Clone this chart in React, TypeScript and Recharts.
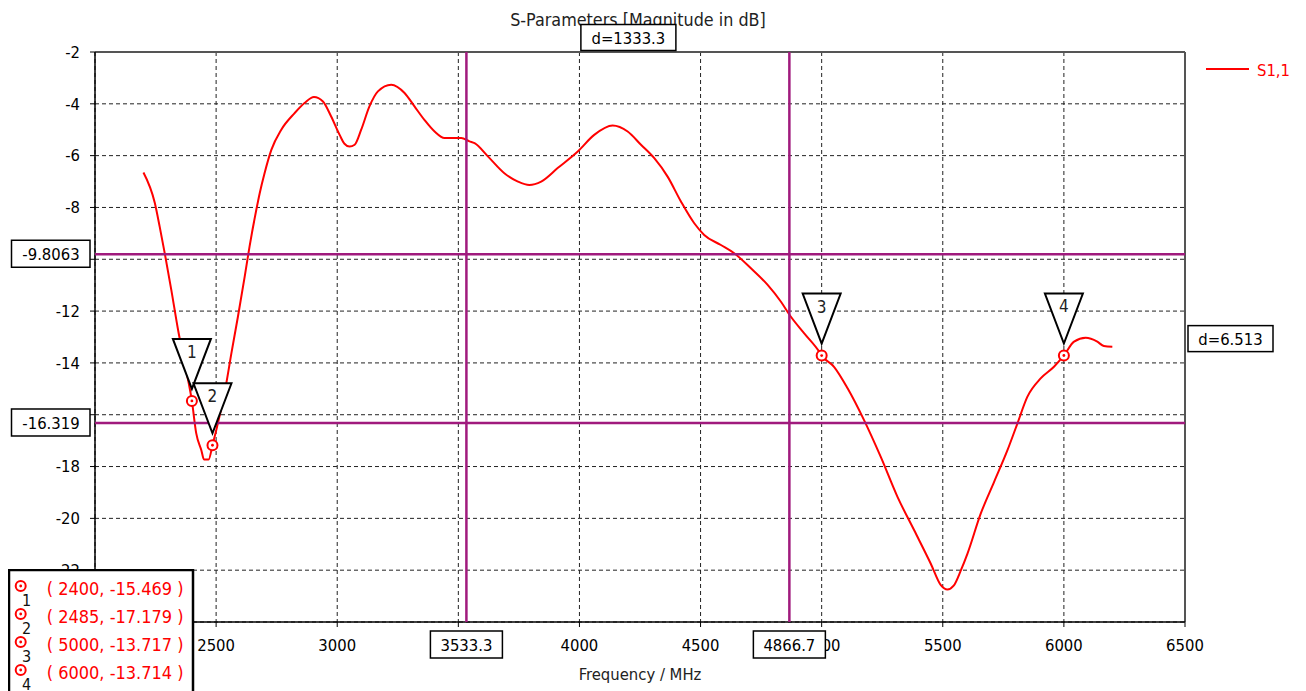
import React from 'react';
import {
  ComposedChart,
  Line,
  Scatter,
  XAxis,
  YAxis,
  CartesianGrid,
  ReferenceLine,
  ReferenceDot,
} from 'recharts';

// ---- data ----
const freqMHz = [
  2200, 2247, 2267, 2288, 2315, 2343, 2372, 2400, 2418, 2439, 2450, 2469, 2485,
  2542, 2563, 2590, 2618, 2638, 2666, 2680, 2700, 2728, 2769, 2824, 2865, 2904,
  2941, 2975, 3010, 3030, 3051, 3072, 3099, 3133, 3168, 3223, 3278, 3319, 3360,
  3402, 3443, 3512, 3546, 3567, 3622, 3690, 3746, 3793, 3842, 3910, 3993, 4061,
  4137, 4199, 4254, 4309, 4364, 4419, 4474, 4515, 4584, 4639, 4708, 4777, 4832,
  4873, 4928, 4990, 5000, 5051, 5107, 5175, 5244, 5313, 5382, 5450, 5492, 5519,
  5545, 5575, 5602, 5657, 5712, 5767, 5808, 5849, 5904, 5959, 6000, 6042, 6090,
  6138, 6165, 6200,
];
const s11dB = [
  -6.65, -7.83, -8.74, -9.77, -11.18, -12.73, -14.1, -15.469, -16.72, -17.37,
  -17.73, -17.73, -17.179, -14.79, -13.63, -12.22, -10.67, -9.51, -8.09, -7.45,
  -6.68, -5.78, -5.0, -4.36, -3.97, -3.74, -3.91, -4.49, -5.2, -5.54, -5.65,
  -5.58, -5.0, -4.1, -3.52, -3.26, -3.58, -4.1, -4.62, -5.07, -5.32, -5.32,
  -5.45, -5.52, -6.03, -6.68, -7.0, -7.13, -7.0, -6.48, -5.84, -5.2, -4.84,
  -5.07, -5.58, -6.1, -6.81, -7.77, -8.61, -9.06, -9.45, -9.77, -10.35, -10.99,
  -11.64, -12.22, -12.86, -13.57, -13.717, -14.15, -14.98, -16.21, -17.63,
  -19.17, -20.46, -21.74, -22.58, -22.75, -22.6, -22.0, -21.36, -19.81, -18.59,
  -17.37, -16.34, -15.31, -14.6, -14.15, -13.714, -13.18, -13.03, -13.18,
  -13.35, -13.38,
];
const xTicks = [2000, 2500, 3000, 3500, 4000, 4500, 5000, 5500, 6000, 6500];
const yTicks = [-24, -22, -20, -18, -16, -14, -12, -10, -8, -6, -4, -2];
const markerIds = [1, 2, 3, 4];
const markerFreq = [2400, 2485, 5000, 6000];
const markerDb = [-15.469, -17.179, -13.717, -13.714];
const cursorFreq = [3533.33, 4866.67];
const cursorDb = [-9.8063, -16.319];
const seriesName = 'S1,1';

const curveData = freqMHz.map((f, i) => ({ f, v: s11dB[i] }));
const markerData = markerIds.map((id, i) => ({ f: markerFreq[i], v: markerDb[i], id }));

const FONT = '"DejaVu Sans Condensed", "Liberation Sans", "DejaVu Sans", sans-serif';
const FS = 16.5;
const PURPLE = '#A01A7D';
const RED = '#FF0000';
const W = 1290;
const H = 683;
const MARGIN = { top: 44, right: 113, bottom: 39, left: 27 };

const MarkerShape = (props: any) => {
  const { cx, cy, payload } = props;
  if (cx == null || cy == null) return null;
  return (
    <g>
      <polygon
        points={`${cx - 19},${cy - 62} ${cx + 19},${cy - 62} ${cx},${cy - 12}`}
        fill="#fff"
        stroke="#000"
        strokeWidth={2}
      />
      <text x={cx} y={cy - 43} textAnchor="middle" fontFamily={FONT} fontSize={17} fill="#222">
        {payload.id}
      </text>
      <circle cx={cx} cy={cy} r={5} fill="#fff" stroke={RED} strokeWidth={2} />
      <circle cx={cx} cy={cy} r={1.4} fill={RED} />
    </g>
  );
};

const hLabel = (text: string) => (props: any) => {
  const vb = props.viewBox || {};
  const x = vb.x;
  const y = vb.y;
  return (
    <g>
      <rect x={x - 83.5} y={y - 14} width={78.5} height={27} fill="#fff" stroke="#000" strokeWidth={1.5} />
      <text x={x - 44} y={y + 6} textAnchor="middle" fontFamily={FONT} fontSize={FS} fill="#000">
        {text}
      </text>
    </g>
  );
};

const vLabel = (text: string) => (props: any) => {
  const vb = props.viewBox || {};
  const x = vb.x;
  const bottom = vb.y + vb.height;
  return (
    <g>
      <rect x={x - 36} y={bottom + 9} width={72} height={27} fill="#fff" stroke="#000" strokeWidth={1.5} />
      <text x={x} y={bottom + 29} textAnchor="middle" fontFamily={FONT} fontSize={FS} fill="#000">
        {text}
      </text>
    </g>
  );
};

const DeltaXBox = (props: any) => {
  const { cx, cy } = props;
  const d = (cursorFreq[1] - cursorFreq[0]).toFixed(1);
  return (
    <g>
      <rect x={cx - 47} y={cy - 27.5} width={95} height={26} fill="#fff" stroke="#000" strokeWidth={1.5} />
      <text x={cx + 0.5} y={cy - 8} textAnchor="middle" fontFamily={FONT} fontSize={FS} fill="#000">
        {`d=${d}`}
      </text>
    </g>
  );
};

const DeltaYBox = (props: any) => {
  const { cx, cy } = props;
  const d = Math.abs(cursorDb[1] - cursorDb[0]).toFixed(3);
  return (
    <g>
      <rect x={cx + 3} y={cy - 13} width={85} height={26} fill="#fff" stroke="#000" strokeWidth={1.5} />
      <text x={cx + 45.5} y={cy + 6} textAnchor="middle" fontFamily={FONT} fontSize={FS} fill="#000">
        {`d=${d}`}
      </text>
    </g>
  );
};

export default function App() {
  return (
    <div style={{ position: 'relative', width: W, height: H }}>
      <svg width={W} height={40} style={{ position: 'absolute', left: 0, top: 0 }}>
        <text x={630} y={18} textAnchor="middle" fontFamily={FONT} fontSize={17.8} fill="#222">
          S-Parameters [Magnitude in dB]
        </text>
      </svg>
      <svg width={100} height={26} style={{ position: 'absolute', left: 1196, top: 50 }}>
        <line x1={2} y1={11} x2={45} y2={11} stroke={RED} strokeWidth={2} />
        <text x={53} y={18} fontFamily={FONT} fontSize={FS} fill={RED}>
          {seriesName}
        </text>
      </svg>
      {/* base chart: grid, axes, curve */}
      <div style={{ position: 'absolute', left: 0, top: 0 }}>
        <ComposedChart width={W} height={H} margin={MARGIN}>
          <CartesianGrid stroke="#222" strokeDasharray="4 3" strokeWidth={1} />
          <XAxis
            type="number"
            dataKey="f"
            domain={[2000, 6500]}
            ticks={xTicks}
            allowDataOverflow
            height={30}
            tickSize={5}
            tickMargin={12}
            tick={{ fill: '#000', fontSize: FS, fontFamily: FONT }}
            stroke="#000"
            axisLine={{ stroke: '#000', strokeWidth: 1.5 }}
            tickLine={{ stroke: '#000' }}
            label={{
              value: 'Frequency / MHz',
              position: 'bottom',
              offset: 16,
              fill: '#222',
              fontSize: FS,
              fontFamily: FONT,
            }}
          />
          <YAxis
            type="number"
            domain={[-24, -2]}
            ticks={yTicks}
            allowDataOverflow
            width={60}
            tickSize={5}
            tickMargin={10}
            tick={{ fill: '#000', fontSize: FS, fontFamily: FONT }}
            stroke="#000"
            axisLine={{ stroke: '#000', strokeWidth: 1.5 }}
            tickLine={{ stroke: '#000' }}
          />
          <ReferenceLine x={6500} stroke="#555" strokeWidth={2} />
          <ReferenceLine y={-2} stroke="#555" strokeWidth={2} />
          <Line
            data={curveData}
            dataKey="v"
            type="monotone"
            stroke={RED}
            strokeWidth={2}
            dot={false}
            isAnimationActive={false}
            name={seriesName}
          />
        </ComposedChart>
      </div>
      {/* overlay chart with the same scales: cursors and markers on top */}
      <div style={{ position: 'absolute', left: 0, top: 0 }}>
        <ComposedChart width={W} height={H} margin={MARGIN}>
          <XAxis
            type="number"
            dataKey="f"
            domain={[2000, 6500]}
            ticks={xTicks}
            allowDataOverflow
            height={30}
            tick={false}
            tickLine={false}
            axisLine={false}
          />
          <YAxis
            type="number"
            domain={[-24, -2]}
            ticks={yTicks}
            allowDataOverflow
            width={60}
            tick={false}
            tickLine={false}
            axisLine={false}
          />
          <ReferenceLine x={cursorFreq[0]} stroke={PURPLE} strokeWidth={2.5} label={vLabel(cursorFreq[0].toFixed(1))} />
          <ReferenceLine x={cursorFreq[1]} stroke={PURPLE} strokeWidth={2.5} label={vLabel(cursorFreq[1].toFixed(1))} />
          <ReferenceLine y={cursorDb[0]} stroke={PURPLE} strokeWidth={2.5} label={hLabel(String(cursorDb[0]))} />
          <ReferenceLine y={cursorDb[1]} stroke={PURPLE} strokeWidth={2.5} label={hLabel(String(cursorDb[1]))} />
          <ReferenceDot
            x={(cursorFreq[0] + cursorFreq[1]) / 2}
            y={-2}
            r={0}
            shape={(p: any) => <DeltaXBox {...p} />}
          />
          <ReferenceDot
            x={6500}
            y={(cursorDb[0] + cursorDb[1]) / 2}
            r={0}
            shape={(p: any) => <DeltaYBox {...p} />}
          />
          <Scatter
            data={markerData}
            dataKey="v"
            isAnimationActive={false}
            shape={(p: any) => <MarkerShape {...p} />}
          />
        </ComposedChart>
      </div>
      <svg width={190} height={125} style={{ position: 'absolute', left: 0, top: 561 }}>
        <rect x={1} y={1} width={184} height={130} fill="#fff" stroke="#000" strokeWidth={2.5} />
        {markerIds.map((id, i) => (
          <g key={id}>
            <circle cx={12.7} cy={17 + i * 28} r={5} fill="#fff" stroke={RED} strokeWidth={2} />
            <circle cx={12.7} cy={17 + i * 28} r={1.4} fill={RED} />
            <text x={18.5} y={37 + i * 28} textAnchor="middle" fontFamily={FONT} fontSize={16} fill="#111">
              {id}
            </text>
            <text x={38.7} y={26 + i * 28} fontFamily={FONT} fontSize={18} fill={RED} xmlSpace="preserve">
              {`( ${markerFreq[i]}, ${markerDb[i].toFixed(3)} )`}
            </text>
          </g>
        ))}
      </svg>
    </div>
  );
}
